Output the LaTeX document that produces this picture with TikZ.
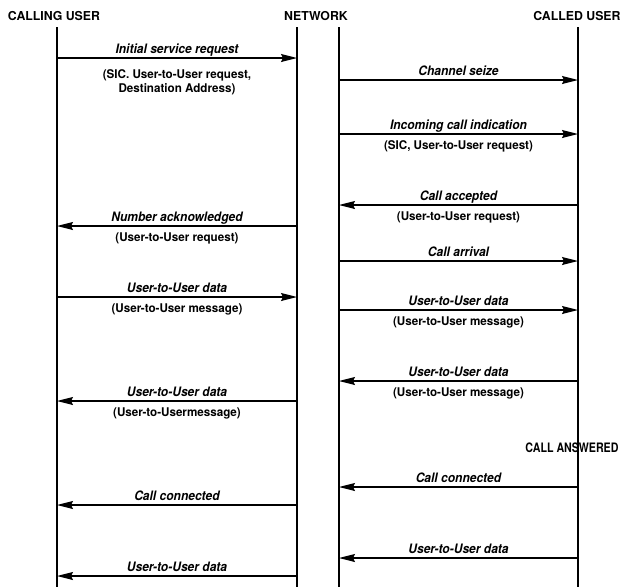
\documentclass[tikz,border=0pt]{standalone}
\usepackage{fontspec}
\setmainfont{TeX Gyre Heros}
\newfontfamily\lblfont[FakeStretch=0.925]{TeX Gyre Heros}
\newfontfamily\parfont[FakeStretch=0.97]{TeX Gyre Heros}
\newfontfamily\ansfont[FakeStretch=0.82]{TeX Gyre Heros}
\usetikzlibrary{arrows.meta}
\begin{document}
\begin{tikzpicture}[x=1pt,y=-1pt,
  hdr/.style={font=\bfseries\fontsize{12.3}{14}\selectfont, inner sep=0pt, anchor=base},
  life/.style={line width=1.6pt},
  msg/.style={line width=1.3pt, -{Stealth[length=16pt,width=8pt,inset=2pt]}},
  lbl/.style={font=\lblfont\bfseries\itshape\fontsize{13}{15}\selectfont, inner sep=0pt, anchor=base, midway, yshift=4.5pt},
  partext/.style={font=\parfont\bfseries\fontsize{12}{14.5}\selectfont, inner sep=0pt, anchor=base, midway},
  par/.style={partext, yshift=-15pt},
  ans/.style={font=\ansfont\bfseries\fontsize{13}{15}\selectfont, inner sep=0pt, anchor=base}]
\useasboundingbox (0,0) rectangle (622,587);

% column headings
\node[hdr] (hcu) at (54,20.5) {CALLING USER};
\node[hdr] (hnw) at (316,20.5) {NETWORK};
\node[hdr] (hcd) at (577,20.5) {CALLED USER};

% lifelines
\coordinate (cu) at (57,27);
\coordinate (nl) at (297,27);
\coordinate (nr) at (339,27);
\coordinate (cd) at (578,27);
\coordinate (bot) at (0,587);
\draw[life] (cu) -- (cu |- bot);
\draw[life] (nl) -- (nl |- bot);
\draw[life] (nr) -- (nr |- bot);
\draw[life] (cd) -- (cd |- bot);

% call set-up
\draw[msg] (cu |- 0,58) -- (nl |- 0,58)
  node[lbl] (m1) {Initial service request}
  node[partext, yshift=-20pt] (p1) {(SIC. User-to-User request,}
  node[partext, yshift=-34.5pt] (p1b) {Destination Address)};
\draw[msg] (nr |- 0,80) -- (cd |- 0,80)
  node[lbl] (m2) {Channel seize};
\draw[msg] (nr |- 0,134) -- (cd |- 0,134)
  node[lbl] (m3) {Incoming call indication}
  node[par] (p3) {(SIC, User-to-User request)};
\draw[msg] (cd |- 0,205) -- (nr |- 0,205)
  node[lbl] (m4) {Call accepted}
  node[par] (p4) {(User-to-User request)};
\draw[msg] (nl |- 0,226) -- (cu |- 0,226)
  node[lbl] (m5) {Number acknowledged}
  node[par] (p5) {(User-to-User request)};
\draw[msg] (nr |- 0,261) -- (cd |- 0,261)
  node[lbl] (m6) {Call arrival};

% user-to-user data exchange
\draw[msg] (cu |- 0,297) -- (nl |- 0,297)
  node[lbl] (m7) {User-to-User data}
  node[par] (p7) {(User-to-User message)};
\draw[msg] (nr |- 0,310) -- (cd |- 0,310)
  node[lbl] (m8) {User-to-User data}
  node[par] (p8) {(User-to-User message)};
\draw[msg] (cd |- 0,381) -- (nr |- 0,381)
  node[lbl] (m9) {User-to-User data}
  node[par] (p9) {(User-to-User message)};
\draw[msg] (nl |- 0,401) -- (cu |- 0,401)
  node[lbl] (m10) {User-to-User data}
  node[par] (p10) {(User-to-Usermessage)};

% answer and connection
\node[ans] (ca) at (572,452.7) {CALL ANSWERED};
\draw[msg] (cd |- 0,487) -- (nr |- 0,487)
  node[lbl] (m11) {Call connected};
\draw[msg] (nl |- 0,505) -- (cu |- 0,505)
  node[lbl] (m12) {Call connected};
\draw[msg] (cd |- 0,558) -- (nr |- 0,558)
  node[lbl] (m13) {User-to-User data};
\draw[msg] (nl |- 0,576) -- (cu |- 0,576)
  node[lbl] (m14) {User-to-User data};
\end{tikzpicture}
\end{document}
